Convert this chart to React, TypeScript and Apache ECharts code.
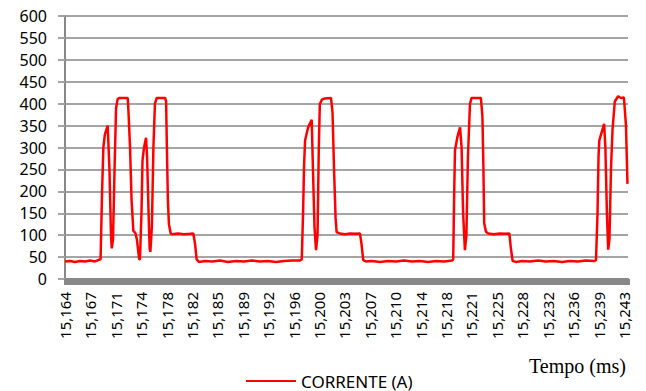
import React, { useEffect, useRef } from "react";
import * as echarts from "echarts";

// Tick labels of the time axis (one per major tick)
const tickLabels: string[] = [
  "15,164", "15,167", "15,171", "15,174", "15,178", "15,182", "15,185", "15,189",
  "15,192", "15,196", "15,200", "15,203", "15,207", "15,210", "15,214", "15,218",
  "15,221", "15,225", "15,228", "15,232", "15,236", "15,239", "15,243",
];

// Position along the time axis, in tick-label slots (0 = 15,164 ... 22 = 15,243)
const tempoSlot: number[] = [
  0, 0.2, 0.39, 0.59, 0.79, 0.98, 1.18, 1.3, 1.4, 1.46, 1.51, 1.57, 1.68, 1.75, 1.81, 1.84,
  1.89, 1.95, 2.01, 2.07, 2.13, 2.47, 2.5, 2.56, 2.62, 2.69, 2.77, 2.83, 2.92, 2.95, 3.01,
  3.05, 3.11, 3.19, 3.23, 3.29, 3.33, 3.36, 3.42, 3.48, 3.54, 3.61, 3.94, 3.98, 4.01, 4.05,
  4.09, 4.16, 4.21, 4.45, 4.68, 4.92, 5.05, 5.12, 5.18, 5.27,
  5.51, 5.79, 6.1, 6.41, 6.73, 7.04, 7.36, 7.67, 7.99, 8.3, 8.62, 8.93, 9.25,
  9.32, 9.37, 9.41, 9.45, 9.57, 9.71, 9.76, 9.82, 9.88, 9.94, 9.99, 10.03, 10.11, 10.23,
  10.47, 10.53, 10.59, 10.65, 10.69, 10.82, 11.02, 11.22, 11.41, 11.61, 11.67, 11.74, 11.84,
  12.08, 12.4, 12.71, 13.03, 13.34, 13.66, 13.97, 14.29, 14.6, 14.92, 15.23,
  15.28, 15.32, 15.35, 15.44, 15.55, 15.61, 15.67, 15.74, 15.8, 15.86, 15.94, 16.0, 16.37,
  16.43, 16.47, 16.5, 16.57, 16.66, 16.88, 17.12, 17.32, 17.49, 17.55, 17.62, 17.75,
  17.99, 18.3, 18.62, 18.93, 19.24, 19.56, 19.87, 20.19, 20.5, 20.82, 20.9,
  20.96, 21.0, 21.03, 21.16, 21.22, 21.27, 21.33, 21.38, 21.43, 21.49, 21.55, 21.64, 21.77,
  21.88, 22.0, 22.08, 22.14,
];

// CORRENTE (A)
const corrente: number[] = [
  40, 41, 39, 41, 40, 42, 40, 43, 45, 200, 300, 330, 350, 250, 100, 70,
  90, 250, 390, 410, 413, 413, 380, 300, 180, 110, 105, 90, 45, 45, 150,
  270, 300, 322, 280, 150, 70, 62, 120, 300, 400, 413, 413, 405, 300, 180,
  125, 104, 102, 104, 102, 103, 104, 80, 45, 39,
  41, 40, 42, 39, 41, 40, 42, 40, 41, 39, 41, 42, 42,
  45, 150, 260, 316, 346, 363, 250, 120, 66, 100, 300, 399, 409, 412,
  413, 380, 250, 140, 107, 104, 102, 104, 103, 104, 80, 43, 40,
  41, 39, 41, 40, 42, 40, 41, 39, 41, 40, 42,
  45, 200, 293, 323, 346, 300, 150, 66, 100, 280, 399, 413, 413,
  370, 250, 127, 108, 104, 102, 104, 103, 104, 70, 41, 39,
  41, 40, 42, 40, 41, 39, 41, 40, 42, 41, 43,
  150, 280, 316, 342, 354, 300, 150, 67, 90, 250, 340, 405, 417,
  413, 414, 350, 217,
];

const yTicks = { min: 0, max: 600, interval: 50 };

export default function App() {
  const ref = useRef<HTMLDivElement>(null);
  useEffect(() => {
    if (!ref.current) return;
    const chart = echarts.init(ref.current, undefined, { renderer: "svg" });
    const data = tempoSlot.map((x, i) => [x, corrente[i]]);
    chart.setOption({
      animation: false,
      backgroundColor: "#fff",
      grid: { left: 57, right: 18, top: 7, bottom: 112, containLabel: false },
      legend: {
        data: ["CORRENTE (A)"],
        left: 238,
        top: 364,
        padding: 0,
        icon: "rect",
        itemWidth: 50,
        itemHeight: 2,
        textStyle: { fontFamily: "Noto Sans", fontSize: 17, color: "#000", lineHeight: 18 },
      },
      graphic: [
        {
          type: "text",
          left: 521,
          top: 348,
          style: { text: "Tempo (ms)", font: '20px "Liberation Serif"', fill: "#000" },
        },
      ],
      xAxis: {
        type: "value",
        min: 0,
        max: 22.16,
        interval: 1,
        axisLine: { show: true, lineStyle: { color: "#888", width: 2 } },
        axisTick: { show: true, length: 6, lineStyle: { color: "#888", width: 3 } },
        minorTick: { show: true, splitNumber: 10, length: 6, lineStyle: { color: "#888", width: 3 } },
        splitLine: { show: false },
        axisLabel: {
          fontFamily: "Noto Sans",
          fontSize: 15,
          color: "#000",
          rotate: 90,
          margin: 13,
          formatter: (v: number) => {
            const i = Math.round(v);
            if (Math.abs(v - i) > 1e-6) return "";
            return tickLabels[i] ?? "";
          },
        },
      },
      yAxis: {
        type: "value",
        min: yTicks.min,
        max: yTicks.max,
        interval: yTicks.interval,
        axisLine: { show: true, lineStyle: { color: "#888", width: 2 } },
        axisTick: { show: true, length: 7, lineStyle: { color: "#a5a5a5", width: 2 } },
        splitLine: { show: true, lineStyle: { color: "#a5a5a5", width: 2 } },
        axisLabel: { fontFamily: "Noto Sans", fontSize: 16, color: "#000", margin: 18 },
      },
      series: [
        {
          name: "CORRENTE (A)",
          type: "line",
          data,
          showSymbol: false,
          symbol: "none",
          lineStyle: { color: "#ff0000", width: 2.5 },
          itemStyle: { color: "#ff0000" },
        },
      ],
    });
    ref.current.querySelectorAll<HTMLElement | SVGElement>("div, svg").forEach((el) => {
      (el as HTMLElement).style.overflow = "visible";
    });
    return () => chart.dispose();
  }, []);
  return <div ref={ref} style={{ width: 638, height: 383 }} />;
}
